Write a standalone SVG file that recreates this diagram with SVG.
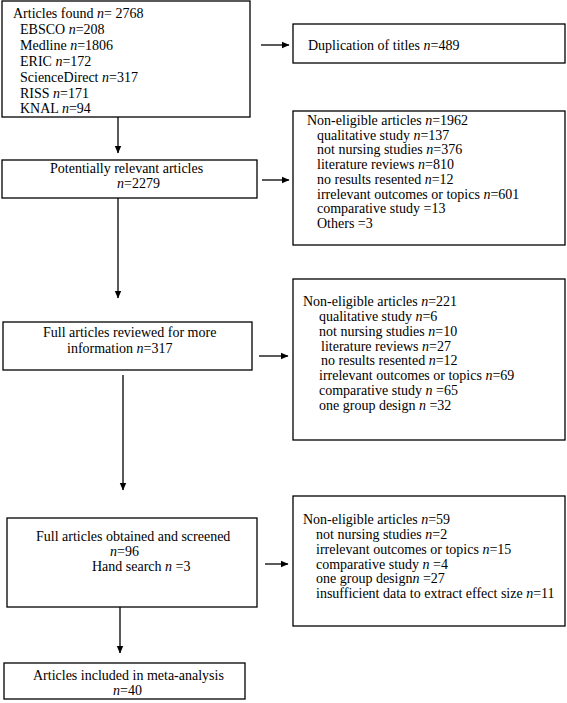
<svg xmlns="http://www.w3.org/2000/svg" width="567" height="703" viewBox="0 0 567 703">
<style>
.box{fill:#fff;stroke:#000;stroke-width:1.3}
.t{font-family:"Liberation Serif","Times New Roman",serif;font-size:14px;fill:#000}
.i{font-style:italic}
.c line{stroke:#000;stroke-width:1.3}
</style>
<defs>
<marker id="ah" markerWidth="8" markerHeight="8" refX="7" refY="4" orient="auto" markerUnits="userSpaceOnUse">
<path d="M0,0.8 L7.5,4 L0,7.2 Z" fill="#000"/>
</marker>
</defs>
<rect width="567" height="703" fill="#fff"/>
<g id="connectors" class="c">
<line x1="118" y1="117" x2="118" y2="153" marker-end="url(#ah)"/>
<line x1="118" y1="198" x2="118" y2="298" marker-end="url(#ah)"/>
<line x1="123" y1="375" x2="123" y2="490" marker-end="url(#ah)"/>
<line x1="120" y1="607" x2="120" y2="653" marker-end="url(#ah)"/>
<line x1="261" y1="45" x2="289" y2="45" marker-end="url(#ah)"/>
<line x1="262" y1="180" x2="289" y2="180" marker-end="url(#ah)"/>
<line x1="259" y1="356" x2="288" y2="356" marker-end="url(#ah)"/>
<line x1="265" y1="564" x2="288" y2="564" marker-end="url(#ah)"/>
</g>
<g id="found">
<rect class="box" x="2" y="1" width="248" height="116"/>
<text class="t" x="13" y="18">Articles found <tspan class="i">n</tspan>= 2768</text>
<text class="t" x="20" y="34">EBSCO <tspan class="i">n</tspan>=208</text>
<text class="t" x="20" y="50">Medline <tspan class="i">n</tspan>=1806</text>
<text class="t" x="20" y="66">ERIC <tspan class="i">n</tspan>=172</text>
<text class="t" x="20" y="82">ScienceDirect <tspan class="i">n</tspan>=317</text>
<text class="t" x="20" y="98">RISS <tspan class="i">n</tspan>=171</text>
<text class="t" x="20" y="113">KNAL <tspan class="i">n</tspan>=94</text>
</g>
<g id="duplication">
<rect class="box" x="293" y="24" width="272" height="39"/>
<text class="t" x="308" y="50">Duplication of titles <tspan class="i">n</tspan>=489</text>
</g>
<g id="relevant">
<rect class="box" x="2" y="160" width="255" height="38"/>
<text class="t" x="50" y="173">Potentially relevant articles</text>
<text class="t" x="117" y="188"><tspan class="i">n</tspan>=2279</text>
</g>
<g id="noneligible1">
<rect class="box" x="293" y="111" width="272" height="134"/>
<text class="t" x="307" y="125">Non-eligible articles <tspan class="i">n</tspan>=1962</text>
<text class="t" x="317" y="139.7">qualitative study  <tspan class="i">n</tspan>=137</text>
<text class="t" x="317" y="154.4">not nursing studies  <tspan class="i">n</tspan>=376</text>
<text class="t" x="317" y="169.1">literature reviews <tspan class="i">n</tspan>=810</text>
<text class="t" x="317" y="183.8">no results resented <tspan class="i">n</tspan>=12</text>
<text class="t" x="317" y="198.5">irrelevant outcomes or topics <tspan class="i">n</tspan>=601</text>
<text class="t" x="317" y="213.2">comparative study =13</text>
<text class="t" x="317" y="227.9">Others =3</text>
</g>
<g id="reviewed">
<rect class="box" x="3" y="322" width="249" height="48"/>
<text class="t" x="43" y="337">Full articles reviewed for more</text>
<text class="t" x="67" y="353">information <tspan class="i">n</tspan>=317</text>
</g>
<g id="noneligible2">
<rect class="box" x="293" y="279" width="272" height="161"/>
<text class="t" x="303" y="306">Non-eligible articles <tspan class="i">n</tspan>=221</text>
<text class="t" x="319" y="321">qualitative study <tspan class="i">n</tspan>=6</text>
<text class="t" x="319" y="335.8">not nursing studies <tspan class="i">n</tspan>=10</text>
<text class="t" x="321" y="350.6">literature reviews <tspan class="i">n</tspan>=27</text>
<text class="t" x="321" y="365.4">no results resented <tspan class="i">n</tspan>=12</text>
<text class="t" x="319" y="380.2">irrelevant outcomes or topics <tspan class="i">n</tspan>=69</text>
<text class="t" x="319" y="395">comparative study <tspan class="i">n</tspan> =65</text>
<text class="t" x="319" y="409.8">one group design <tspan class="i">n</tspan> =32</text>
</g>
<g id="obtained">
<rect class="box" x="7" y="518" width="250" height="89"/>
<text class="t" x="36" y="541">Full articles obtained and screened</text>
<text class="t" x="110" y="556"><tspan class="i">n</tspan>=96</text>
<text class="t" x="92" y="571">Hand search <tspan class="i">n</tspan> =3</text>
</g>
<g id="noneligible3">
<rect class="box" x="293" y="496" width="272" height="130"/>
<text class="t" x="303" y="524">Non-eligible articles <tspan class="i">n</tspan>=59</text>
<text class="t" x="316" y="539">not nursing studies  <tspan class="i">n</tspan>=2</text>
<text class="t" x="316" y="553.8">irrelevant outcomes or topics <tspan class="i">n</tspan>=15</text>
<text class="t" x="316" y="568.6">comparative study <tspan class="i">n</tspan> =4</text>
<text class="t" x="316" y="583.4">one group design<tspan class="i">n</tspan> =27</text>
<text class="t" x="316" y="598.2">insufficient data to extract effect size <tspan class="i">n</tspan>=11</text>
</g>
<g id="included">
<rect class="box" x="4" y="663" width="241" height="36"/>
<text class="t" x="33" y="680">Articles included in meta-analysis</text>
<text class="t" x="113" y="695"><tspan class="i">n</tspan>=40</text>
</g>
</svg>
